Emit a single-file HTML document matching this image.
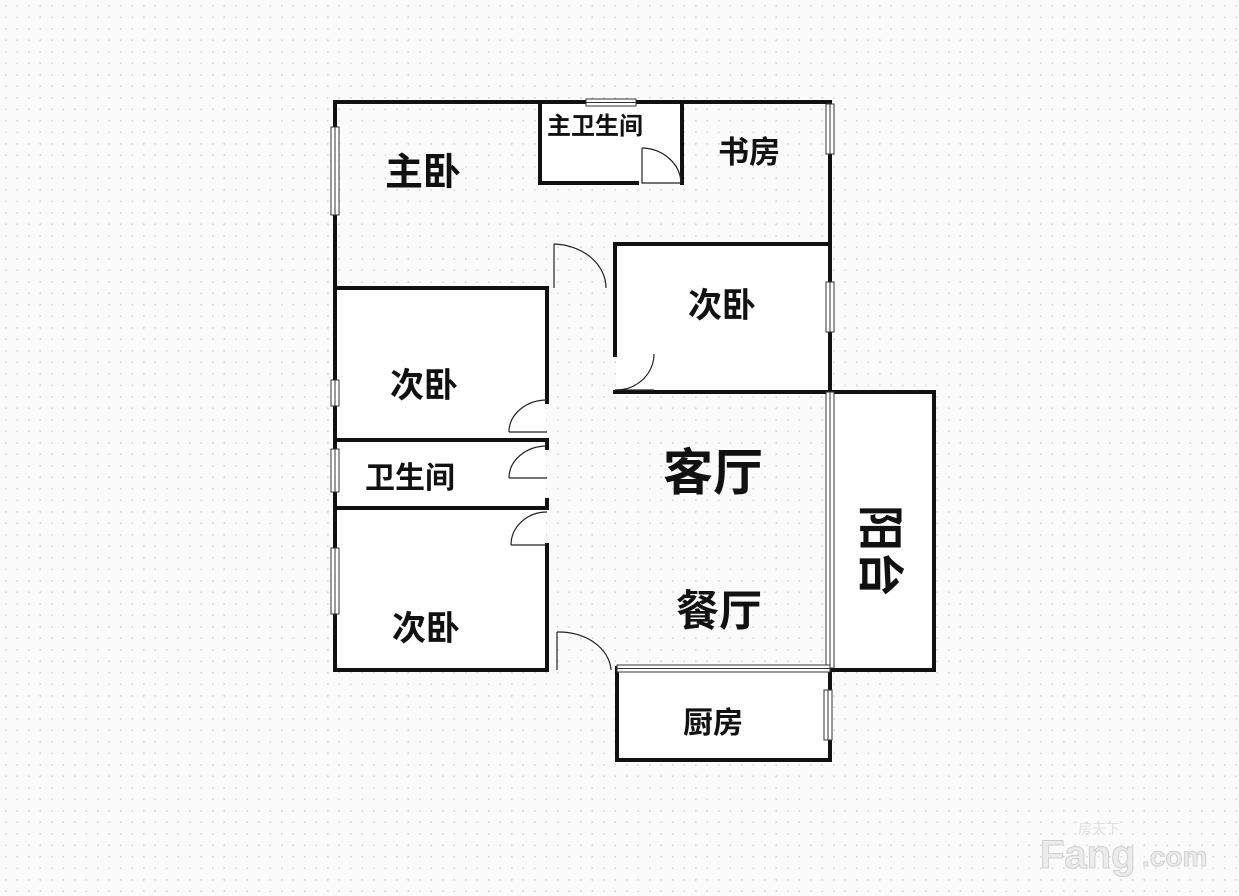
<!DOCTYPE html>
<html><head><meta charset="utf-8"><style>
html,body{margin:0;padding:0;background:#fbfbfb;}
svg{display:block}
text{font-family:"Liberation Sans","Noto Sans CJK SC",sans-serif;fill:#111;}
</style></head><body>
<svg width="1239" height="896" viewBox="0 0 1239 896" xmlns="http://www.w3.org/2000/svg">
<defs>
<pattern id="d" width="11.5" height="11.5" patternUnits="userSpaceOnUse">
<rect x="5" y="5" width="1.6" height="1.6" fill="#d6d6d6"/>
</pattern>
</defs>
<rect width="1239" height="896" fill="#fbfbfb"/>
<rect width="1239" height="896" fill="url(#d)"/>
<g fill="#fff">
<rect x="541" y="104" width="140" height="78"/>
<rect x="616" y="245" width="213" height="146"/>
<rect x="336" y="289" width="210" height="150"/>
<rect x="336" y="441" width="210" height="66"/>
<rect x="336" y="509" width="210" height="160"/>
<rect x="831" y="393" width="102" height="276"/>
<rect x="618" y="669" width="211" height="90"/>
</g>
<g stroke="#111" stroke-width="4" fill="none" stroke-linecap="square">
<path d="M335 102 H830 V392"/>
<path d="M335 102 V670 H547 V545"/>
<path d="M540 102 V183 H637"/>
<path d="M682 102 V183"/>
<path d="M615 355 V244 H830"/>
<path d="M615 392 H830"/>
<path d="M335 288 H547 V402"/>
<path d="M335 440 H547"/>
<path d="M335 508 H547"/>
<path d="M547 440 V448"/>
<path d="M547 500 V508"/>
<path d="M833 392 H934 V670 H833"/>
<path d="M617 668 V760 H830 V668"/>
</g>
<g fill="#fff" stroke="#333" stroke-width="1">
<rect x="586" y="99" width="50" height="7"/><line x1="586" y1="102.5" x2="636" y2="102.5"/>
<rect x="331" y="127" width="8" height="88"/><line x1="335" y1="127" x2="335" y2="215"/>
<rect x="826" y="104" width="8" height="50"/><line x1="830" y1="104" x2="830" y2="154"/>
<rect x="826" y="282" width="8" height="50"/><line x1="830" y1="282" x2="830" y2="332"/>
<rect x="331" y="380" width="8" height="26"/><line x1="335" y1="380" x2="335" y2="406"/>
<rect x="331" y="449" width="8" height="43"/><line x1="335" y1="449" x2="335" y2="492"/>
<rect x="331" y="548" width="8" height="66"/><line x1="335" y1="548" x2="335" y2="614"/>
<rect x="826" y="392" width="8" height="276"/><line x1="830" y1="392" x2="830" y2="668"/>
<rect x="617" y="665" width="213" height="7"/><line x1="617" y1="668.5" x2="830" y2="668.5"/>
<rect x="824" y="690" width="8" height="50"/><line x1="828" y1="690" x2="828" y2="740"/>
</g>
<g stroke="#222" stroke-width="1.2" fill="none">
<path d="M642 148 V183 H681"/><path d="M642 148 A40 36 0 0 1 681 183"/>
<path d="M554 244 V288"/><path d="M554 244 A54 44 0 0 1 606 288"/>
<path d="M615 390 H654"/><path d="M654 354 A38 36 0 0 1 615 390"/>
<path d="M509 432 H547"/><path d="M547 400 A38 32 0 0 0 509 432"/>
<path d="M509 478 H547"/><path d="M547 446 A38 32 0 0 0 509 478"/>
<path d="M511 545 H547"/><path d="M547 512 A36 33 0 0 0 511 545"/>
<path d="M557 632 V670"/><path d="M557 632 A52 40 0 0 1 611 670"/>
</g>
<g font-weight="bold">
<text x="385" y="185" font-size="38">主卧</text>
<text x="547" y="134" font-size="24">主卫生间</text>
<text x="718" y="163" font-size="31">书房</text>
<text x="688" y="317" font-size="34">次卧</text>
<text x="390" y="397" font-size="34">次卧</text>
<text x="365" y="488" font-size="30">卫生间</text>
<text x="392" y="640" font-size="34">次卧</text>
<text x="663" y="490" font-size="50">客厅</text>
<text x="676" y="626" font-size="43">餐厅</text>
<text x="683" y="733" font-size="30">厨房</text>
<text font-size="46" transform="translate(858,505) rotate(90)" x="0" y="-6">阳台</text>
</g>
<text x="1078" y="834" font-size="14" style="fill:#e0e0e0">房天下</text>
<text x="1040" y="868" font-size="40" font-weight="bold" style="fill:#ececec;stroke:#d0d0d0;stroke-width:1">Fang</text>
<text x="1142" y="866" font-size="28" font-weight="bold" style="fill:#ececec;stroke:#d0d0d0;stroke-width:1">.com</text>
</svg>
</body></html>
